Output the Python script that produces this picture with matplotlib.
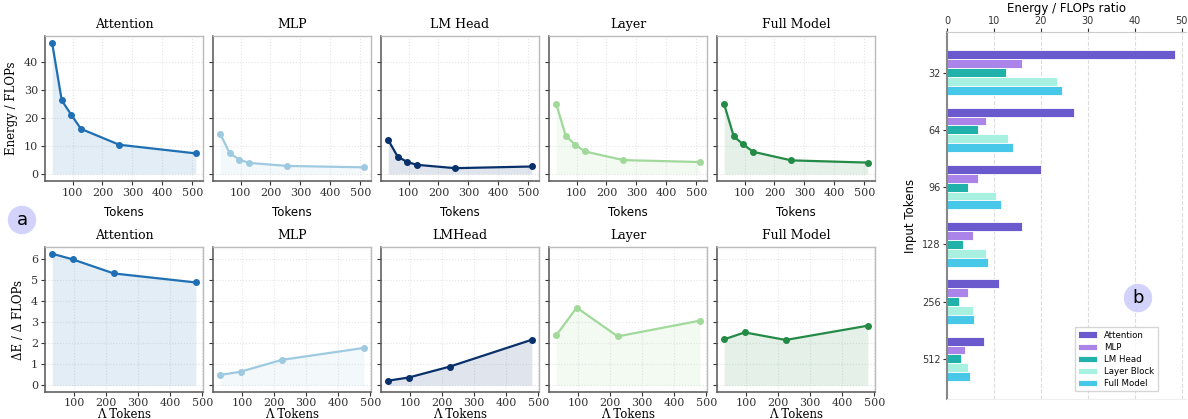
import numpy as np
import matplotlib
matplotlib.use("Agg")
import matplotlib.pyplot as plt
from matplotlib.patches import Ellipse

# panel a, top row: energy / FLOPs per token count
tokens = [32, 64, 96, 128, 256, 512]
attn = [46.9, 26.4, 21.2, 16.2, 10.5, 7.4]
mlp = [14.5, 7.4, 5.2, 4.0, 2.9, 2.4]
lm_head = [12.2, 6.2, 4.3, 3.3, 2.1, 2.7]
layer = [25.2, 13.7, 10.5, 8.1, 5.0, 4.3]
full = [25.0, 13.5, 10.6, 8.0, 4.9, 4.1]

# panel a, bottom row: marginal ratio
d_tokens = [32, 96, 224, 480]
d_attn = [6.27, 6.00, 5.33, 4.90]
d_mlp = [0.49, 0.65, 1.21, 1.78]
d_lm_head = [0.22, 0.37, 0.89, 2.17]
d_layer = [2.38, 3.70, 2.33, 3.08]
d_full = [2.19, 2.52, 2.16, 2.84]

top_titles = ["Attention", "MLP", "LM Head", "Layer", "Full Model"]
bot_titles = ["Attention", "MLP", "LMHead", "Layer", "Full Model"]
line_colors = ["#1f6fb4", "#9ecae1", "#08306b", "#a1d99b", "#238b45"]

# panel b: grouped bars
bar_tokens = ["32", "64", "96", "128", "256", "512"]
bar_names = ["Attention", "MLP", "LM Head", "Layer Block", "Full Model"]
bar_attn = [48.5, 27.0, 20.0, 16.0, 11.0, 7.9]
bar_mlp = [16.0, 8.4, 6.5, 5.5, 4.5, 3.8]
bar_lm = [12.5, 6.5, 4.4, 3.5, 2.5, 3.0]
bar_layer = [23.5, 12.9, 10.4, 8.4, 5.5, 4.5]
bar_full = [24.5, 14.0, 11.5, 8.8, 5.7, 5.0]
bar_colors = ["#6a5acd", "#ab84ea", "#20b2aa", "#a8f0e0", "#48c8e8"]

SERIF = "DejaVu Serif"


def style_line_ax(ax, first):
	ax.set_facecolor("white")
	ax.grid(True, color="#e6e6e6", linestyle=":", linewidth=0.8)
	ax.set_axisbelow(True)
	for s in ["left", "bottom"]:
		ax.spines[s].set_color("#555555")
		ax.spines[s].set_linewidth(1.1)
	for s in ["top", "right"]:
		ax.spines[s].set_color("#bbbbbb")
		ax.spines[s].set_linewidth(1.0)
	ax.tick_params(axis="both", labelsize=8, colors="#333333", length=3, pad=2)
	for lab in ax.get_xticklabels() + ax.get_yticklabels():
		lab.set_family(SERIF)
	if not first:
		ax.tick_params(axis="y", labelleft=False)


def line_panel(ax, x, y, color, title, first, xlabel, xfont):
	ax.plot(x, y, color=color, marker="o", markersize=4, linewidth=1.6)
	ax.fill_between(x, 0, y, color=color, alpha=0.12, linewidth=0)
	ax.set_title(title, fontsize=9, family=SERIF, pad=6)
	ax.set_xlabel(xlabel, fontsize=8.5, family=xfont)
	style_line_ax(ax, first)


fig = plt.figure(figsize=(11.88, 4.19), dpi=100)

lefts = [45, 213, 381, 549, 717]
W, H = 1188.0, 419.0
top_series = [attn, mlp, lm_head, layer, full]
bot_series = [d_attn, d_mlp, d_lm_head, d_layer, d_full]

for i in range(5):
	ax = fig.add_axes([lefts[i] / W, 1 - 181 / H, 158 / W, 145 / H])
	line_panel(ax, tokens, top_series[i], line_colors[i], top_titles[i], i == 0, "Tokens", "DejaVu Sans")
	ax.set_ylim(-2.5, 49.5)
	ax.set_yticks([0, 10, 20, 30, 40])
	ax.set_xticks([100, 200, 300, 400, 500])
	ax.xaxis.labelpad = 6
	if i == 0:
		ax.set_ylabel("Energy / FLOPs", fontsize=8.5, family=SERIF)

	ax = fig.add_axes([lefts[i] / W, 1 - 392 / H, 158 / W, 145 / H])
	line_panel(ax, d_tokens, bot_series[i], line_colors[i], bot_titles[i], i == 0, "Λ Tokens", SERIF)
	ax.xaxis.labelpad = 0
	ax.set_ylim(-0.32, 6.59)
	ax.set_yticks([0, 1, 2, 3, 4, 5, 6])
	ax.set_xticks([100, 200, 300, 400, 500])
	ax.tick_params(axis="x", pad=1)
	if i == 0:
		ax.set_ylabel("ΔE / Δ FLOPs", fontsize=8.5, family=SERIF)

# bar chart
bx = fig.add_axes([947 / W, 1 - 399 / H, 239 / W, 367 / H])
vals = [bar_attn, bar_mlp, bar_lm, bar_layer, bar_full]
pos = np.arange(len(bar_tokens))
h = 0.155
for j in range(5):
	bx.barh(pos + (j - 2) * h, vals[j], height=h, color=bar_colors[j],
		edgecolor="white", linewidth=0.6, label=bar_names[j])
bx.set_ylim(5.7, -0.71)
bx.set_xlim(0, 50.9)
bx.set_yticks(pos)
bx.set_yticklabels(bar_tokens)
bx.xaxis.tick_top()
bx.xaxis.set_label_position("top")
bx.set_xticks([0, 10, 20, 30, 40, 50])
bx.set_xlabel("Energy / FLOPs ratio", fontsize=8.5, labelpad=3)
bx.set_ylabel("Input Tokens", fontsize=8.5)
bx.tick_params(axis="both", labelsize=7, length=3, colors="#333333", pad=1.5)
bx.grid(True, axis="x", color="#dddddd", linestyle="--", linewidth=0.8)
bx.set_axisbelow(True)
bx.spines["left"].set_color("#888888")
bx.spines["left"].set_linewidth(1.5)
bx.spines["top"].set_color("#cccccc")
bx.spines["right"].set_visible(False)
bx.spines["bottom"].set_color("#eeeeee")
bx.legend(loc="lower right", fontsize=6.2, frameon=True, fancybox=False,
	edgecolor="#cccccc", handlelength=2.2, borderpad=0.4, labelspacing=0.35,
	bbox_to_anchor=(0.9, 0.01))

# panel markers
for (cx, cy, txt) in [(22, 220, "a"), (1138, 298, "b")]:
	fig.patches.append(Ellipse((cx / W, 1 - cy / H), 27 / W, 27 / H,
		transform=fig.transFigure, color="#d2d2fa", zorder=5))
	fig.text(cx / W, 1 - cy / H, txt, ha="center", va="center", fontsize=13, zorder=6)

fig.savefig("out.png", dpi=100)
